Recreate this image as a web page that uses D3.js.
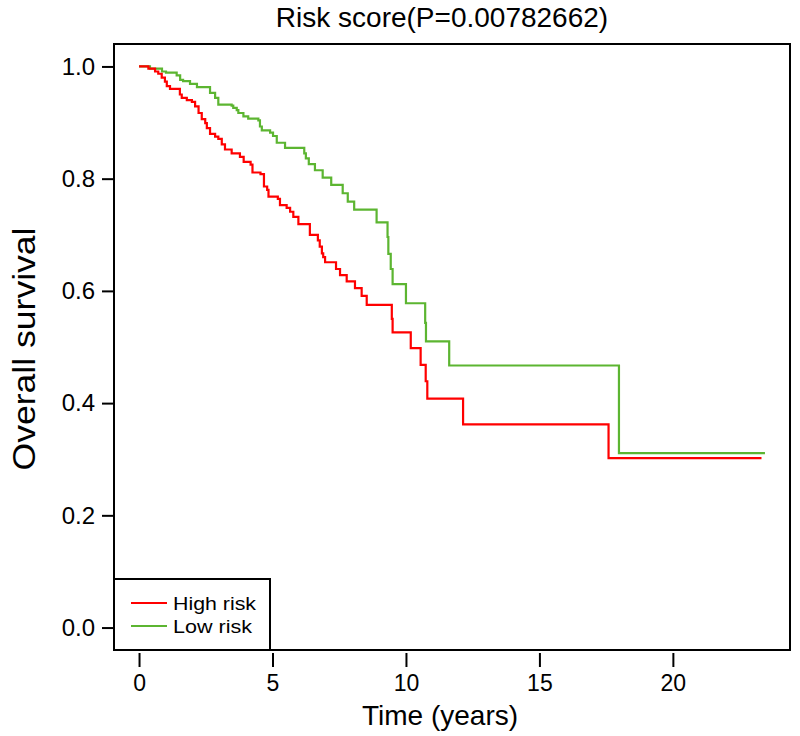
<!DOCTYPE html>
<html>
<head>
<meta charset="utf-8">
<script src="https://cdn.jsdelivr.net/npm/d3@7"></script>
<style>
  html, body { margin: 0; padding: 0; background: #fff; }
  text { font-family: "Liberation Sans", Arial, Helvetica, sans-serif; fill: #000; }
</style>
</head>
<body>
<svg id="chart" width="800" height="736"></svg>
<script>
// ---- data ----
const seriesNames = ["High risk", "Low risk"];
const seriesColors = ["#ff0000", "#5cb531"];

// High risk: step times (years) and survival after each step
const highRiskTimes = [0, 0.35, 0.6, 0.72, 0.85, 0.97, 1.04, 1.16, 1.53, 1.6, 1.79, 1.98, 2.1, 2.23, 2.35, 2.48, 2.54, 2.66, 2.85, 2.97, 3.1, 3.22, 3.47, 3.78, 3.92, 4.18, 4.25, 4.55, 4.68, 4.8, 4.85, 5.2, 5.28, 5.53, 5.66, 5.78, 5.97, 6.4, 6.7, 6.77, 6.85, 6.9, 6.97, 7.38, 7.53, 7.78, 8.09, 8.34, 8.53, 9.47, 9.5, 10.18, 10.55, 10.74, 10.8, 12.14, 17.59, 23.32];
const highRiskSurv  = [1.0, 0.996, 0.991, 0.987, 0.98, 0.973, 0.965, 0.96, 0.95, 0.944, 0.94, 0.937, 0.929, 0.917, 0.906, 0.899, 0.89, 0.88, 0.875, 0.871, 0.861, 0.852, 0.845, 0.839, 0.83, 0.825, 0.811, 0.808, 0.786, 0.78, 0.768, 0.764, 0.753, 0.748, 0.741, 0.732, 0.719, 0.7, 0.69, 0.679, 0.667, 0.66, 0.651, 0.639, 0.628, 0.617, 0.605, 0.591, 0.575, 0.55, 0.526, 0.498, 0.468, 0.439, 0.408, 0.362, 0.302, 0.302];

// Low risk
const lowRiskTimes = [0, 0.41, 0.86, 1.01, 1.41, 1.54, 1.65, 1.91, 2.17, 2.66, 2.85, 2.97, 3.47, 3.53, 3.66, 3.72, 3.91, 4.09, 4.47, 4.53, 4.6, 4.91, 5.02, 5.16, 5.47, 6.19, 6.25, 6.36, 6.59, 6.88, 7.2, 7.63, 7.82, 8.06, 8.9, 9.31, 9.34, 9.43, 9.5, 10.0, 10.72, 10.75, 11.62, 17.98, 23.45];
const lowRiskSurv  = [1.0, 0.996, 0.991, 0.989, 0.984, 0.976, 0.974, 0.969, 0.963, 0.953, 0.944, 0.932, 0.93, 0.926, 0.922, 0.917, 0.911, 0.907, 0.904, 0.893, 0.886, 0.882, 0.876, 0.864, 0.855, 0.845, 0.836, 0.826, 0.815, 0.802, 0.789, 0.774, 0.759, 0.745, 0.722, 0.696, 0.666, 0.639, 0.612, 0.578, 0.543, 0.51, 0.467, 0.311, 0.311];

const xTicks = [0, 5, 10, 15, 20];
const yTicks = [0.0, 0.2, 0.4, 0.6, 0.8, 1.0];
const titleText = "Risk score(P=0.00782662)";
const xLabel = "Time (years)";
const yLabel = "Overall survival";

// ---- layout ----
const svg = d3.select("#chart");
const box = { left: 114, right: 790, top: 44, bottom: 650 };
const xMax = 23.45;
const x = d3.scaleLinear().domain([-0.04 * xMax, xMax * 1.04]).range([box.left, box.right]);
const y = d3.scaleLinear().domain([-0.04, 1.04]).range([box.bottom, box.top]);

const series = [
  { name: seriesNames[0], color: seriesColors[0], pts: highRiskTimes.map((t, i) => [t, highRiskSurv[i]]) },
  { name: seriesNames[1], color: seriesColors[1], pts: lowRiskTimes.map((t, i) => [t, lowRiskSurv[i]]) }
];

const line = d3.line().x(d => x(d[0])).y(d => y(d[1])).curve(d3.curveStepAfter);

series.slice().reverse().forEach(s => {
  svg.append("path").attr("d", line(s.pts))
    .attr("fill", "none").attr("stroke", s.color).attr("stroke-width", 2.2);
});

// box
svg.append("rect").attr("x", box.left).attr("y", box.top)
  .attr("width", box.right - box.left).attr("height", box.bottom - box.top)
  .attr("fill", "none").attr("stroke", "#000").attr("stroke-width", 2);

// x axis
const xAxis = d3.axisBottom(x).tickValues(xTicks).tickSize(14).tickPadding(8).tickFormat(d3.format("d"));
const gx = svg.append("g").attr("transform", `translate(0,${box.bottom + 3})`).call(xAxis);
gx.select(".domain").remove();
gx.selectAll(".tick line").attr("stroke", "#000").attr("stroke-width", 2);
gx.selectAll(".tick text").attr("font-size", 23).attr("font-family", "Liberation Sans, Arial, sans-serif");

// y axis
const yAxis = d3.axisLeft(y).tickValues(yTicks).tickSize(12).tickPadding(7).tickFormat(d3.format(".1f"));
const gy = svg.append("g").attr("transform", `translate(${box.left},0)`).call(yAxis);
gy.select(".domain").remove();
gy.selectAll(".tick line").attr("stroke", "#000").attr("stroke-width", 2);
gy.selectAll(".tick text").attr("font-size", 24).attr("font-family", "Liberation Sans, Arial, sans-serif");

// titles
svg.append("text").attr("x", 442).attr("y", 27).attr("text-anchor", "middle")
  .attr("font-size", 28).text(titleText);
svg.append("text").attr("x", 440).attr("y", 725).attr("text-anchor", "middle")
  .attr("font-size", 28).text(xLabel);
svg.append("text").attr("transform", `translate(35,349) rotate(-90)`)
  .attr("text-anchor", "middle").attr("font-size", 31)
  .attr("textLength", 243).attr("lengthAdjust", "spacingAndGlyphs").text(yLabel);

// legend
const lg = { x0: box.left, y0: 579, x1: 270, y1: box.bottom };
svg.append("rect").attr("x", lg.x0).attr("y", lg.y0).attr("width", lg.x1 - lg.x0).attr("height", lg.y1 - lg.y0)
  .attr("fill", "#fff").attr("stroke", "#000").attr("stroke-width", 2);
series.forEach((s, i) => {
  const ly = 603 + i * 23;
  svg.append("line").attr("x1", 131).attr("x2", 167).attr("y1", ly).attr("y2", ly)
    .attr("stroke", s.color).attr("stroke-width", 1.8);
  svg.append("text").attr("x", 173).attr("y", ly + 7).attr("font-size", 19)
    .attr("textLength", i === 0 ? 83 : 79).attr("lengthAdjust", "spacingAndGlyphs").text(s.name);
});
</script>
</body>
</html>
